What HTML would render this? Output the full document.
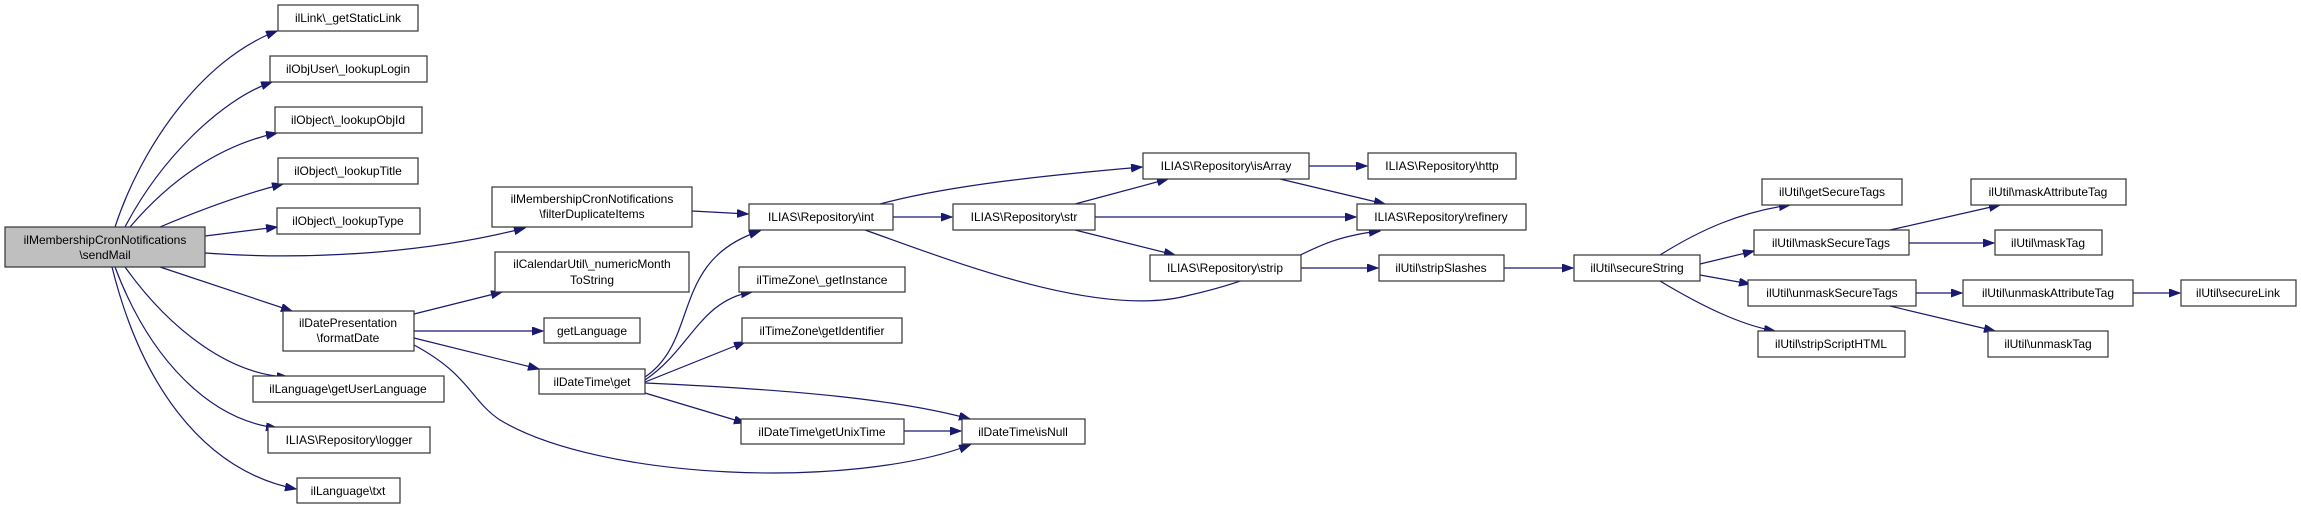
<!DOCTYPE html>
<html><head><meta charset="utf-8"><style>
html,body{margin:0;padding:0;background:#fff;}
svg{display:block;}
text{font-family:"Liberation Sans",sans-serif;font-size:12px;fill:#000;text-anchor:middle;}
rect{fill:#fff;stroke:#333;stroke-width:1.2;}
path{fill:none;stroke:#191970;stroke-width:1.2;}
</style></head><body>
<svg width="2301" height="509" viewBox="0 0 2301 509" xmlns="http://www.w3.org/2000/svg">
<defs><marker id="a" markerUnits="userSpaceOnUse" markerWidth="12" markerHeight="10" refX="11" refY="4" orient="auto"><path d="M0,0 L11,4 L0,8 Z" style="fill:#191970;stroke:#191970;stroke-width:1"/></marker></defs>
<g marker-end="url(#a)">
<path d="M115,227 C140,150 200,60 277,31"/>
<path d="M125,227 C160,160 220,100 272,82"/>
<path d="M130,227 C170,180 220,145 277,133"/>
<path d="M160,227 C200,210 240,195 283,184"/>
<path d="M205,236 L277,227"/>
<path d="M205,253 C300,260 420,255 525,228"/>
<path d="M160,267 L292,311"/>
<path d="M125,267 C170,330 230,375 288,377"/>
<path d="M115,267 C150,360 210,420 277,428"/>
<path d="M112,267 C140,380 200,470 296,489"/>
<path d="M414,314 L502,292"/>
<path d="M414,331 L543,331"/>
<path d="M414,338 L539,369"/>
<path d="M414,345 C470,375 470,400 500,420 C600,480 850,490 970,445"/>
<path d="M645,377 C700,340 670,260 760,231"/>
<path d="M645,380 C690,350 700,300 752,292"/>
<path d="M645,382 L745,342"/>
<path d="M645,383 C800,390 900,400 970,419"/>
<path d="M645,393 L745,423"/>
<path d="M904,431 L961,431"/>
<path d="M692,211 L748,214"/>
<path d="M893,217 L952,217"/>
<path d="M880,204 C950,185 1050,175 1142,167"/>
<path d="M865,230 C950,260 1100,320 1190,295 C1300,270 1300,240 1380,231"/>
<path d="M1075,204 L1168,179"/>
<path d="M1095,217 L1356,217"/>
<path d="M1075,230 L1175,255"/>
<path d="M1309,166 L1367,166"/>
<path d="M1280,179 L1385,204"/>
<path d="M1301,268 L1378,268"/>
<path d="M1504,268 L1573,268"/>
<path d="M1660,255 C1700,230 1740,212 1790,205"/>
<path d="M1700,264 L1754,251"/>
<path d="M1700,275 L1750,284"/>
<path d="M1660,281 C1700,305 1740,325 1775,331"/>
<path d="M1890,230 L2000,205"/>
<path d="M1909,243 L1994,243"/>
<path d="M1916,293 L1962,293"/>
<path d="M1890,306 L1995,331"/>
<path d="M2133,293 L2180,293"/>
</g>
<rect x="5" y="227" width="200" height="40" style="fill:#bfbfbf"/><text x="105" y="244">ilMembershipCronNotifications</text><text x="105" y="259">\sendMail</text>
<rect x="278" y="5" width="140" height="26"/><text x="348" y="22">ilLink\_getStaticLink</text>
<rect x="270" y="56" width="157" height="26"/><text x="348" y="73">ilObjUser\_lookupLogin</text>
<rect x="275" y="107" width="147" height="26"/><text x="348" y="124">ilObject\_lookupObjId</text>
<rect x="278" y="158" width="140" height="26"/><text x="348" y="175">ilObject\_lookupTitle</text>
<rect x="277" y="208" width="143" height="26"/><text x="348" y="225">ilObject\_lookupType</text>
<rect x="492" y="187" width="200" height="40"/><text x="592" y="203">ilMembershipCronNotifications</text><text x="592" y="218">\filterDuplicateItems</text>
<rect x="495" y="252" width="194" height="40"/><text x="592" y="268">ilCalendarUtil\_numericMonth</text><text x="592" y="284">ToString</text>
<rect x="544" y="318" width="96" height="25"/><text x="592" y="335">getLanguage</text>
<rect x="283" y="311" width="131" height="40"/><text x="348" y="327">ilDatePresentation</text><text x="348" y="342">\formatDate</text>
<rect x="253" y="376" width="191" height="26"/><text x="348" y="393">ilLanguage\getUserLanguage</text>
<rect x="268" y="427" width="162" height="26"/><text x="349" y="444">ILIAS\Repository\logger</text>
<rect x="297" y="478" width="103" height="25"/><text x="348" y="495">ilLanguage\txt</text>
<rect x="539" y="369" width="106" height="25"/><text x="592" y="386">ilDateTime\get</text>
<rect x="749" y="204" width="144" height="26"/><text x="821" y="221">ILIAS\Repository\int</text>
<rect x="739" y="267" width="166" height="25"/><text x="822" y="284">ilTimeZone\_getInstance</text>
<rect x="742" y="318" width="160" height="25"/><text x="822" y="335">ilTimeZone\getIdentifier</text>
<rect x="741" y="419" width="163" height="25"/><text x="822" y="436">ilDateTime\getUnixTime</text>
<rect x="962" y="419" width="123" height="25"/><text x="1023" y="436">ilDateTime\isNull</text>
<rect x="953" y="204" width="142" height="26"/><text x="1024" y="221">ILIAS\Repository\str</text>
<rect x="1143" y="153" width="166" height="26"/><text x="1226" y="170">ILIAS\Repository\isArray</text>
<rect x="1368" y="153" width="148" height="26"/><text x="1442" y="170">ILIAS\Repository\http</text>
<rect x="1357" y="204" width="169" height="26"/><text x="1441" y="221">ILIAS\Repository\refinery</text>
<rect x="1150" y="255" width="151" height="26"/><text x="1225" y="272">ILIAS\Repository\strip</text>
<rect x="1379" y="255" width="125" height="26"/><text x="1441" y="272">ilUtil\stripSlashes</text>
<rect x="1574" y="255" width="126" height="26"/><text x="1637" y="272">ilUtil\secureString</text>
<rect x="1762" y="179" width="140" height="26"/><text x="1832" y="196">ilUtil\getSecureTags</text>
<rect x="1754" y="230" width="155" height="25"/><text x="1831" y="247">ilUtil\maskSecureTags</text>
<rect x="1971" y="179" width="155" height="26"/><text x="2048" y="196">ilUtil\maskAttributeTag</text>
<rect x="1995" y="230" width="107" height="25"/><text x="2048" y="247">ilUtil\maskTag</text>
<rect x="1748" y="280" width="168" height="26"/><text x="1832" y="297">ilUtil\unmaskSecureTags</text>
<rect x="1963" y="280" width="170" height="26"/><text x="2048" y="297">ilUtil\unmaskAttributeTag</text>
<rect x="2181" y="280" width="115" height="26"/><text x="2238" y="297">ilUtil\secureLink</text>
<rect x="1758" y="331" width="147" height="26"/><text x="1831" y="348">ilUtil\stripScriptHTML</text>
<rect x="1988" y="331" width="120" height="26"/><text x="2048" y="348">ilUtil\unmaskTag</text>
</svg>
</body></html>
